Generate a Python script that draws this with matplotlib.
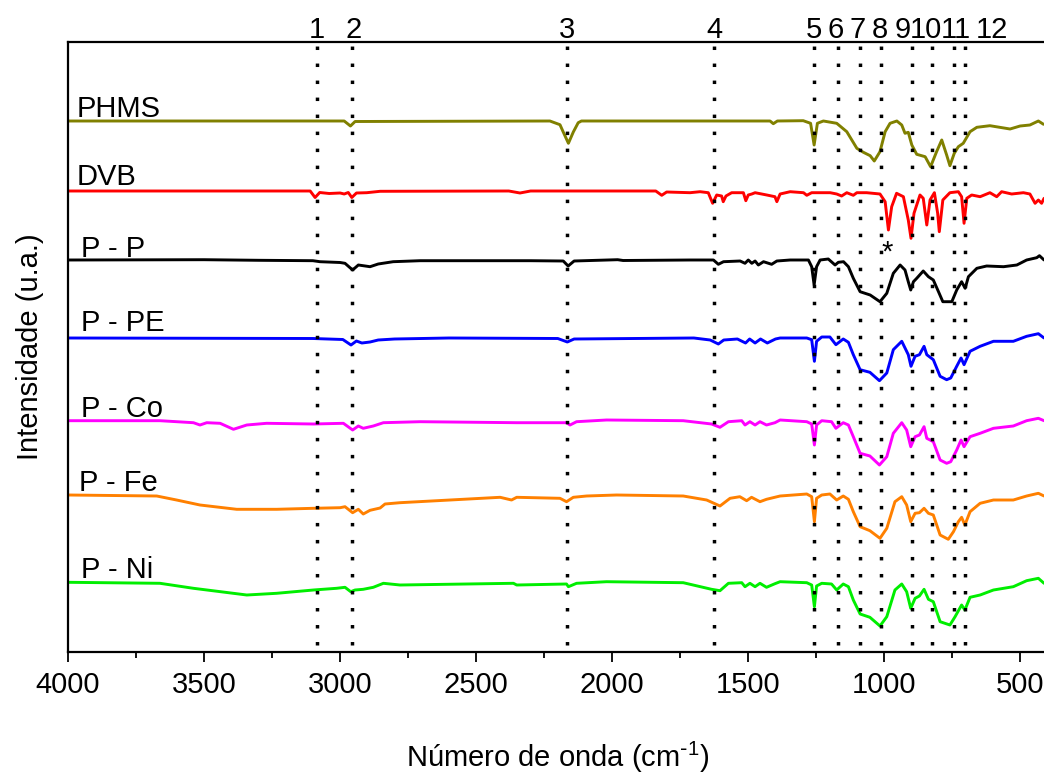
import numpy as np
import matplotlib
matplotlib.use('Agg')
import matplotlib.pyplot as plt
from matplotlib.ticker import MultipleLocator

plt.rcParams['font.family'] = ['Liberation Sans', 'DejaVu Sans']
plt.rcParams['mathtext.default'] = 'regular'

# espectros FTIR (número de onda em cm-1, intensidade relativa à linha de base, u.a.)
phms_wn = [4000, 3000, 2985, 2962, 2945, 2229, 2192, 2180, 2161, 2143, 2125, 2113,
           1714, 1420, 1408, 1393, 1298, 1271, 1258, 1246, 1224, 1175, 1138, 1101,
           1077, 1052, 1037, 1016, 997, 979, 954, 936, 924, 912, 899, 881, 850, 830,
           808, 789, 771, 759, 743, 728, 710, 685, 660, 612, 538, 501, 465, 434, 415]
phms_int = [0, 0, 0, -5, -0.5, 0, -3.7, -11, -22.3, -11, -1.7, 0,
            0, 0, -2.7, 0, 0.3, -2.3, -24, -2.3, 0, -2.3, -10.7, -27.3,
            -31.3, -34.7, -40, -30.7, -10.7, -2.3, 0, -4, -12.3, -11.3, -24, -33.3, -35.7, -45.7,
            -30.7, -19, -34, -44.7, -32.3, -25.7, -22.3, -10.7, -6.3, -4.7, -8, -5, -4, 0, -3.3]

dvb_wn = [4000, 3110, 3092, 3075, 3040, 3000, 2985, 2970, 2957, 2940, 2902, 2853,
          2380, 2339, 2300, 1840, 1818, 1800, 1714, 1677, 1647, 1631, 1616, 1598,
          1592, 1582, 1561, 1518, 1509, 1500, 1487, 1475, 1432, 1402, 1395, 1383,
          1346, 1297, 1285, 1267, 1199, 1175, 1157, 1138, 1114, 1101, 1065, 1016,
          997, 985, 973, 955, 930, 912, 902, 891, 869, 857, 844, 832, 816, 804, 798,
          785, 759, 728, 716, 707, 697, 679, 648, 612, 587, 569, 532, 489, 465, 446,
          434, 422, 413]
dvb_int = [0, 0, -6.5, -1.5, -2.5, -2, -3, -1.5, -6.5, -2, -1.7, -0.3,
           0, -2, 0, 0, -4.3, -1, -1.7, -0.7, -1.7, -12.3, -4, -5,
           -10.7, -5, -1.7, -1.7, -9.7, -4, -3, -1.7, -4, -5.7, -10.7, -3,
           -0.7, -1.7, -4.3, -1.7, -1.7, -3, -5, -1.7, -4.3, -1.7, -1.7, -3,
           -10.7, -39, -15.7, -2.3, -5.7, -29, -47.3, -22.3, -4, -7.3, -34, -9, -1.7, -22.3, -40.7,
           -9, -1.7, -0.7, -5.7, -32.3, -7.3, -4, -5.7, -1.7, -5.7, -0.7, -3, -1.7, -3, -12.3,
           -9, -12.3, -7.3]

pp_wn = [4000, 3500, 3300, 3100, 3074, 3000, 2982, 2954, 2933, 2890, 2860, 2805,
         2706, 2300, 2180, 2162, 2140, 1980, 1960, 1714, 1628, 1610, 1591, 1530,
         1512, 1500, 1487, 1475, 1463, 1444, 1414, 1395, 1346, 1279, 1267, 1258,
         1249, 1236, 1206, 1181, 1169, 1150, 1132, 1114, 1089, 1052, 1016, 991,
         967, 942, 924, 912, 903, 893, 881, 857, 838, 820, 801, 785, 752, 734,
         716, 703, 691, 660, 624, 562, 513, 477, 440, 430, 413]
pp_int = [0, 0.3, -0.3, -0.7, -1.7, -2.5, -3.3, -10, -5, -6.7, -4, -1.7,
          -0.7, -0.7, -1, -6, -1, 0.3, -0.5, 0, 0, -4.3, -1.7, -1,
          -3.3, 0, -3.3, -1, -5, -1.7, -4.3, -1, 0, 0, -6.7, -25,
          -6.7, 0, 1, -5, -2.3, -1.7, -6.7, -18.3, -31.7, -35, -41.7, -33.3,
          -13.3, -5, -10, -21.7, -30, -21.7, -18.3, -11, -16.7, -20, -31.7, -41.7, -41.7, -30,
          -21.7, -28.3, -16.7, -8.3, -6, -6.7, -5, 0, 2.3, 4.3, 0]

ppe_wn = [4000, 3100, 2990, 2960, 2940, 2920, 2890, 2860, 2800, 2600, 2200, 2165,
          2140, 1700, 1640, 1610, 1590, 1540, 1510, 1495, 1475, 1455, 1430, 1400,
          1383, 1285, 1267, 1257, 1249, 1230, 1200, 1178, 1151, 1132, 1114, 1089,
          1053, 1018, 991, 967, 936, 912, 902, 887, 871, 854, 844, 820, 795, 771,
          756, 734, 718, 707, 685, 648, 599, 526, 477, 434, 413]
ppe_int = [0, -0.5, -1.5, -7, -3, -5, -4, -2, -1, 0, -0.5, -4,
           -1, 0, -2, -6, -2, -1, -5, -1, -5, -1, -5, -1,
           0, 0, -1.7, -23.3, -3.3, 1, 1, -6.7, -1, -4.3, -16.7, -31.7,
           -34.3, -42.7, -35, -11.7, -3.3, -16.7, -28.3, -18.3, -16.7, -8.3, -16.7, -21.7, -38.3, -41.7,
           -40, -28.3, -20, -26.7, -13.3, -8.3, -3.3, -3.3, 1.7, 4.3, 0]

pco_wn = [4000, 3662, 3539, 3515, 3490, 3441, 3392, 3343, 3270, 3098, 2988, 2954,
          2933, 2915, 2878, 2841, 2706, 2351, 2168, 2155, 2131, 2021, 1739, 1635,
          1604, 1573, 1524, 1512, 1494, 1475, 1457, 1433, 1402, 1383, 1285, 1267,
          1257, 1249, 1230, 1194, 1178, 1151, 1132, 1114, 1089, 1053, 1018, 991,
          967, 936, 918, 903, 887, 871, 854, 844, 820, 795, 771, 756, 734, 718,
          707, 685, 648, 599, 526, 477, 434, 413]
pco_int = [0.3, 0.3, -1.7, -4, -1.7, -2.3, -8.3, -4, -2.3, -3, -2.3, -9,
           -5, -7.3, -5, -1.7, -0.7, -1.7, -1.7, -4, -0.7, 1, 0.3, -3,
           -6.3, -0.7, 0.3, -4, -0.7, -4, -0.7, -4, -1.7, 1, -0.7, -3,
           -24, -4, 0.3, -0.7, -7.3, -1.7, -4, -15.7, -32.3, -35, -44, -35.7,
           -12.3, -1.7, -9, -25.7, -15.7, -14, -5.7, -17.3, -20.7, -39, -42.3, -40.7, -29, -19,
           -25.7, -15.7, -12.3, -7.3, -5, 0.3, 2.7, 0.3]

pfe_wn = [4000, 3674, 3601, 3515, 3380, 3233, 3098, 3000, 2982, 2954, 2933, 2915,
          2890, 2853, 2835, 2780, 2412, 2370, 2351, 2192, 2168, 2143, 2094, 1984,
          1739, 1653, 1604, 1567, 1531, 1506, 1488, 1457, 1433, 1383, 1285, 1267,
          1257, 1249, 1230, 1200, 1175, 1151, 1132, 1114, 1089, 1053, 1016, 991,
          961, 936, 918, 903, 887, 871, 854, 838, 820, 795, 765, 746, 728, 716,
          704, 685, 648, 599, 526, 477, 434, 413]
pfe_int = [0, -1, -5, -10, -14.3, -14.3, -13.3, -12.7, -11.7, -17.7, -14.3, -19,
           -15.3, -13, -9, -7.7, -2.3, -5, -2.3, -3.3, -6.7, -2.3, -1, 0,
           -1, -5, -11, -3.3, -1.7, -5.7, -2.3, -6.7, -4.3, -1, 1, -1.7,
           -26.7, -3.3, 0, 1, -5, -1, -4.3, -16.7, -31.7, -35.7, -43.3, -33.3,
           -6.7, -1.7, -10, -26.7, -18.3, -17.7, -13.3, -18.3, -20, -40, -44.3, -36.7, -26.7, -22.3,
           -30, -16.7, -8.3, -5, -5, -1, 1.7, -1]

pni_wn = [4000, 3662, 3539, 3343, 3233, 3098, 3013, 2982, 2961, 2945, 2915, 2878,
          2841, 2780, 2363, 2351, 2168, 2161, 2131, 2021, 1739, 1635, 1604, 1573,
          1524, 1512, 1494, 1475, 1457, 1433, 1402, 1383, 1285, 1267, 1257, 1249,
          1230, 1194, 1175, 1151, 1132, 1114, 1089, 1053, 1016, 991, 961, 936,
          918, 903, 887, 871, 854, 838, 820, 795, 759, 740, 716, 704, 685, 648,
          599, 526, 477, 434, 413]
pni_int = [0.7, -0.3, -5.3, -12, -10.3, -7, -5.3, -4.3, -8.7, -7, -6.3, -4.3,
           -0.3, -2, -0.3, -2, -1, -3.7, -0.3, 1.3, 0.3, -6.3, -7.7, -0.3,
           0.3, -3.7, -0.3, -3.7, -0.3, -4.3, -0.7, 1.3, 0.3, -2, -23.7, -3,
           -0.3, -1, -7, -1, -3.7, -17, -31, -34.3, -43, -33.7, -7, -1,
           -8.7, -25.3, -15.3, -13, -6.3, -16.3, -18.7, -38.7, -42, -33.7, -22, -27, -14.3, -12,
           -7, -3.7, 2.3, 4.7, -0.3]

names = ['PHMS', 'DVB', 'P - P', 'P - PE', 'P - Co', 'P - Fe', 'P - Ni']
colors = ['#808000', '#ff0000', '#000000', '#0000ff', '#ff00ff', '#ff8000', '#00ee00']
offsets = [531, 461, 392, 314, 231, 157, 69]
label_x = [3967, 3967, 3952, 3952, 3952, 3960, 3952]
label_dy = [4, 6, 3, 7, 4, 4, 5]
spectra = [(phms_wn, phms_int), (dvb_wn, dvb_int), (pp_wn, pp_int), (ppe_wn, ppe_int),
           (pco_wn, pco_int), (pfe_wn, pfe_int), (pni_wn, pni_int)]

# bandas marcadas
band_pos = [3085, 2956, 2166, 1626, 1258, 1169, 1089, 1012, 899, 824, 744, 702]
band_labels = ['1', '2', '3', '4', '5', '6', '7', '8', '9', '10', '11', '12']
band_label_x = [3085, 2949, 2166, 1626, 1258, 1178, 1099, 1016, 931, 847, 737, 604]

fig = plt.figure(figsize=(10.44, 7.74), dpi=100)
ax = fig.add_axes([68/1044, 122/774, 979.6/1044, 610/774])

for (wn, inten), name, c, off, lx, ldy in zip(spectra, names, colors, offsets, label_x, label_dy):
    ax.plot(wn, off + np.array(inten), color=c, lw=2.1,
            solid_joinstyle='round', solid_capstyle='round')
    ax.text(lx, off + ldy, name, fontsize=21, ha='left', va='baseline')

for x in band_pos:
    ax.plot([x, x], [7, 608], color='k', lw=2.5, ls=(0, (1, 3.9)))
for x, lab in zip(band_label_x, band_labels):
    ax.text(x, 614, lab, fontsize=21, ha='center', va='baseline')

ax.text(988, 391, '*', fontsize=21, ha='center', va='baseline')

ax.set_xlim(4000, 400)
ax.set_ylim(0, 610)
ax.set_xticks([4000, 3500, 3000, 2500, 2000, 1500, 1000, 500])
ax.xaxis.set_minor_locator(MultipleLocator(250))
ax.set_yticks([])
ax.tick_params(axis='x', which='major', direction='out', length=7.5, width=1.3, labelsize=21, pad=6)
ax.tick_params(axis='x', which='minor', direction='out', length=4, width=1.3)
for s in ['left', 'bottom', 'top']:
    ax.spines[s].set_linewidth(1.6)
ax.spines['right'].set_visible(False)

fig.text(30/1044, 1 - 347/774, 'Intensidade (u.a.)', rotation=90, ha='center', va='center', fontsize=21)
fig.text(558/1044, 1 - 757/774, r'Número de onda (cm$^{\text{-}1}$)', ha='center', va='center', fontsize=21)

fig.savefig('out.png', dpi=100)
